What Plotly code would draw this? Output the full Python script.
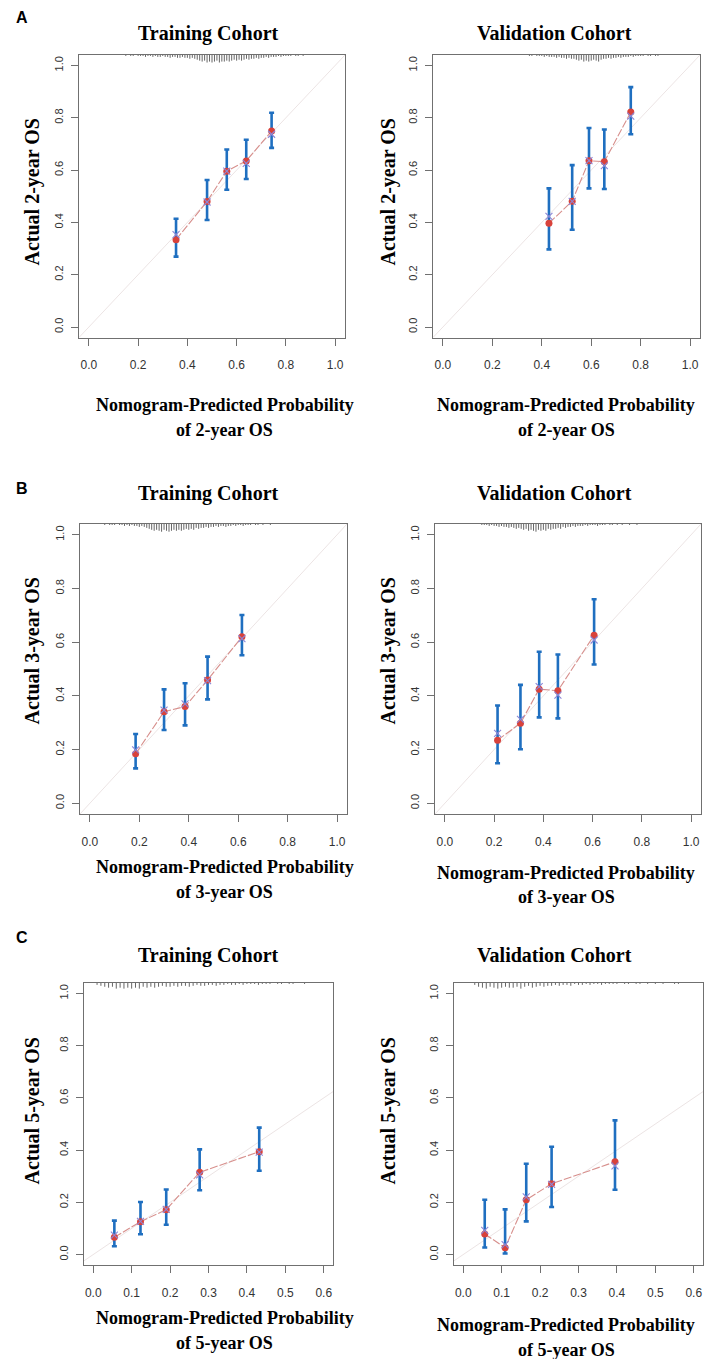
import plotly.graph_objects as go

W, H = 705, 1359

# ---------------- data ----------------
# Panel A: 2-year OS
a_train_pred = [0.354, 0.480, 0.560, 0.639, 0.742]
a_train_obs = [0.334, 0.480, 0.596, 0.635, 0.749]
a_train_lo = [0.269, 0.409, 0.525, 0.566, 0.685]
a_train_hi = [0.414, 0.562, 0.679, 0.716, 0.819]
a_train_bc = [0.353, 0.478, 0.596, 0.626, 0.737]

a_valid_pred = [0.429, 0.523, 0.591, 0.653, 0.760]
a_valid_obs = [0.397, 0.481, 0.636, 0.632, 0.822]
a_valid_lo = [0.297, 0.372, 0.530, 0.528, 0.737]
a_valid_hi = [0.530, 0.619, 0.761, 0.755, 0.917]
a_valid_bc = [0.423, 0.480, 0.636, 0.617, 0.806]

# Panel B: 3-year OS
b_train_pred = [0.185, 0.300, 0.385, 0.476, 0.615]
b_train_obs = [0.184, 0.341, 0.360, 0.459, 0.620]
b_train_lo = [0.130, 0.273, 0.290, 0.387, 0.551]
b_train_hi = [0.258, 0.424, 0.447, 0.546, 0.701]
b_train_bc = [0.199, 0.347, 0.370, 0.457, 0.613]

b_valid_pred = [0.214, 0.307, 0.383, 0.459, 0.606]
b_valid_obs = [0.235, 0.298, 0.425, 0.419, 0.626]
b_valid_lo = [0.149, 0.201, 0.320, 0.316, 0.517]
b_valid_hi = [0.364, 0.441, 0.564, 0.554, 0.760]
b_valid_bc = [0.260, 0.312, 0.434, 0.403, 0.608]

# Panel C: 5-year OS
c_train_pred = [0.055, 0.123, 0.190, 0.277, 0.432]
c_train_obs = [0.066, 0.126, 0.172, 0.315, 0.394]
c_train_lo = [0.032, 0.078, 0.114, 0.246, 0.321]
c_train_hi = [0.130, 0.201, 0.249, 0.403, 0.486]
c_train_bc = [0.074, 0.127, 0.173, 0.305, 0.392]

c_valid_pred = [0.056, 0.109, 0.164, 0.230, 0.395]
c_valid_obs = [0.079, 0.026, 0.210, 0.271, 0.355]
c_valid_lo = [0.027, 0.004, 0.127, 0.182, 0.248]
c_valid_hi = [0.210, 0.173, 0.348, 0.413, 0.514]
c_valid_bc = [0.093, 0.038, 0.221, 0.269, 0.340]

# Rug (distribution of predicted risk) drawn at the top of each box: bin starts and counts (0.01-wide bins)
a_train_rug_start = 0.15
a_train_rug = [1, 0, 1, 1, 0, 1, 1, 1, 2, 1, 1, 2, 1, 2, 2, 1, 2, 2, 3, 2,
               2, 3, 3, 2, 3, 3, 4, 3, 4, 5, 6, 7, 6, 8, 7, 8, 7, 6, 8, 7,
               7, 6, 7, 6, 5, 6, 5, 6, 5, 4, 5, 4, 4, 3, 4, 3, 3, 2, 3, 2,
               2, 2, 1, 2, 1, 1, 1, 1, 0, 1, 1, 0, 1]
a_valid_rug_start = 0.35
a_valid_rug = [1, 1, 0, 1, 1, 1, 2, 1, 2, 2, 2, 3, 2, 3, 3, 4, 3, 4, 4, 5,
               6, 5, 7, 6, 7, 6, 5, 6, 7, 5, 4, 4, 3, 4, 3, 3, 2, 3, 2, 2,
               2, 1, 2, 1, 1, 1, 1, 0, 1, 1, 0, 1, 1]
b_train_rug_start = 0.06
b_train_rug = [1, 0, 1, 1, 1, 0, 1, 1, 2, 1, 2, 1, 2, 2, 3, 2, 3, 4, 5, 6,
               7, 6, 7, 8, 6, 7, 8, 7, 6, 7, 6, 7, 6, 5, 6, 5, 6, 4, 5, 4,
               4, 3, 4, 3, 3, 2, 3, 2, 2, 3, 2, 2, 1, 2, 1, 1, 2, 1, 1, 1,
               0, 1, 1, 0, 1, 0, 0, 1]
b_valid_rug_start = 0.15
b_valid_rug = [1, 1, 1, 2, 1, 2, 2, 3, 2, 3, 3, 4, 3, 4, 5, 4, 5, 6, 5, 7,
               6, 7, 8, 6, 7, 6, 7, 5, 6, 5, 5, 4, 5, 3, 4, 3, 3, 2, 3, 2,
               2, 2, 1, 2, 1, 1, 1, 2, 1, 1, 1, 0, 1, 1, 0, 1, 0, 1, 0, 0,
               1, 0, 0, 1]
c_train_rug_start = 0.01
c_train_rug = [2, 3, 4, 5, 4, 6, 5, 6, 5, 6, 5, 6, 4, 5, 4, 5, 4, 3, 4, 4,
               3, 4, 3, 3, 4, 3, 2, 3, 3, 2, 2, 3, 2, 2, 1, 2, 2, 1, 2, 1,
               1, 1, 2, 1, 1, 1, 0, 1, 1, 0, 1, 1, 0, 0, 1]
c_valid_rug_start = 0.03
c_valid_rug = [2, 4, 5, 6, 4, 5, 6, 5, 4, 5, 5, 4, 6, 4, 3, 5, 4, 3, 4, 3,
               3, 2, 3, 2, 2, 3, 1, 2, 2, 1, 2, 1, 1, 2, 1, 1, 1, 1, 0, 1,
               1, 0, 1, 1, 0, 1, 0, 1, 0, 1, 0, 0, 1, 1]

x_ticks_ab = [0.0, 0.2, 0.4, 0.6, 0.8, 1.0]
x_ticks_c = [0.0, 0.1, 0.2, 0.3, 0.4, 0.5, 0.6]
y_ticks = [0.0, 0.2, 0.4, 0.6, 0.8, 1.0]

panel_letters = ["A", "B", "C"]
col_titles = ["Training Cohort", "Validation Cohort"]
horizons = ["2-year", "3-year", "5-year"]

# ---------------- layout geometry (pixels) ----------------
boxes = {
    (0, 0): (79, 345, 55, 337.5), (0, 1): (433, 700, 55, 337.5),
    (1, 0): (80, 347, 524, 814), (1, 1): (435, 701, 524, 814),
    (2, 0): (84, 333, 983, 1265), (2, 1): (454, 703, 983, 1265),
}
letter_y = [17.5, 488, 937]
title_y = [33, 493, 955]
xt_y = {(0, 0): (405, 430), (0, 1): (405, 430), (1, 0): (867, 892), (1, 1): (873, 897),
        (2, 0): (1318, 1343), (2, 1): (1325, 1350)}
xt_x = [224.5, 566]
yt_x = [31.5, 387.5]
yt_y = [192, 651, 1111]
title_x = [208, 554]

BLUE = "#1f6fc0"
RED = "#d8423b"
XCOL = "#8c86d6"
LINE = "#d78f8c"
DIAG = "#ece4e4"
RUG = "#666666"
AXC = "#707070"
SERIF = "Liberation Serif, Times New Roman, serif"
SANS = "Liberation Sans, Arial, sans-serif"

datasets = {
    (0, 0): (a_train_pred, a_train_obs, a_train_lo, a_train_hi, a_train_bc, a_train_rug_start, a_train_rug),
    (0, 1): (a_valid_pred, a_valid_obs, a_valid_lo, a_valid_hi, a_valid_bc, a_valid_rug_start, a_valid_rug),
    (1, 0): (b_train_pred, b_train_obs, b_train_lo, b_train_hi, b_train_bc, b_train_rug_start, b_train_rug),
    (1, 1): (b_valid_pred, b_valid_obs, b_valid_lo, b_valid_hi, b_valid_bc, b_valid_rug_start, b_valid_rug),
    (2, 0): (c_train_pred, c_train_obs, c_train_lo, c_train_hi, c_train_bc, c_train_rug_start, c_train_rug),
    (2, 1): (c_valid_pred, c_valid_obs, c_valid_lo, c_valid_hi, c_valid_bc, c_valid_rug_start, c_valid_rug),
}

fig = go.Figure()
layout = {}
annotations = []


def px_x(x):
    return x / W


def px_y(y):
    return 1 - y / H


idx = 0
for (r, c), (pred, obs, lo, hi, bc, rstart, rug) in datasets.items():
    idx += 1
    xa = "x" if idx == 1 else f"x{idx}"
    ya = "y" if idx == 1 else f"y{idx}"
    xkey = "xaxis" if idx == 1 else f"xaxis{idx}"
    ykey = "yaxis" if idx == 1 else f"yaxis{idx}"
    x0, x1, y0, y1 = boxes[(r, c)]
    xt = x_ticks_c if r == 2 else x_ticks_ab
    xmax = xt[-1]
    xr = [-0.04 * xmax, xmax * 1.04]
    yr = [-0.04, 1.04]

    # ideal diagonal
    dmax = min(xr[1], yr[1])
    fig.add_trace(go.Scatter(x=[xr[0], dmax], y=[xr[0], dmax], mode="lines",
                             line=dict(color=DIAG, width=1), xaxis=xa, yaxis=ya,
                             showlegend=False, hoverinfo="skip"))
    # rug at top
    rx, ry = [], []
    for i, cnt in enumerate(rug):
        if cnt <= 0:
            continue
        b = rstart + i * 0.01
        rx += [b, b, None]
        ry += [yr[1], yr[1] - cnt * 0.0036, None]
    fig.add_trace(go.Scatter(x=rx, y=ry, mode="lines", line=dict(color=RUG, width=1),
                             xaxis=xa, yaxis=ya, showlegend=False, hoverinfo="skip"))
    # connecting line
    fig.add_trace(go.Scatter(x=pred, y=obs, mode="lines",
                             line=dict(color=LINE, width=1.1, dash="8px,2px"),
                             xaxis=xa, yaxis=ya, showlegend=False))
    # error bars (95% CI)
    fig.add_trace(go.Scatter(
        x=pred, y=obs, mode="markers", marker=dict(size=1, color=BLUE, opacity=0),
        error_y=dict(type="data", symmetric=False,
                     array=[h - o for h, o in zip(hi, obs)],
                     arrayminus=[o - l for o, l in zip(obs, lo)],
                     color=BLUE, thickness=2.6, width=2.5),
        xaxis=xa, yaxis=ya, showlegend=False))
    # observed points
    fig.add_trace(go.Scatter(x=pred, y=obs, mode="markers",
                             marker=dict(size=7, color=RED, line=dict(width=0)),
                             xaxis=xa, yaxis=ya, showlegend=False))
    # bias-corrected estimates
    fig.add_trace(go.Scatter(x=pred, y=bc, mode="markers",
                             marker=dict(size=7, symbol="x-thin-open", color=XCOL,
                                         line=dict(width=1.1, color=XCOL)),
                             xaxis=xa, yaxis=ya, showlegend=False))

    common = dict(showgrid=False, zeroline=False, showline=True, mirror=True,
                  linecolor=AXC, linewidth=1.3, ticks="outside", ticklen=7,
                  tickcolor=AXC, tickwidth=1)
    layout[xkey] = dict(domain=[px_x(x0), px_x(x1)], range=xr, anchor=ya,
                        tickvals=xt, ticktext=[f"{v:.1f}" for v in xt],
                        tickfont=dict(family=SANS, size=12, color="#333"),
                        ticklabelstandoff=9, **common)
    layout[ykey] = dict(domain=[px_y(y1), px_y(y0)], range=yr, anchor=xa,
                        tickvals=y_ticks, ticktext=[f"{v:.1f}" for v in y_ticks],
                        tickangle=-90,
                        tickfont=dict(family=SANS, size=11, color="#333"),
                        ticklabelstandoff=3, **common)

    # titles
    annotations.append(dict(text=f"<b>{col_titles[c]}</b>", x=px_x(title_x[c]), y=px_y(title_y[r]),
                            xref="paper", yref="paper", showarrow=False, xanchor="center",
                            yanchor="middle", font=dict(family=SERIF, size=20, color="black")))
    l1, l2 = xt_y[(r, c)]
    annotations.append(dict(text="<b>Nomogram-Predicted Probability</b>", x=px_x(xt_x[c]), y=px_y(l1),
                            xref="paper", yref="paper", showarrow=False, xanchor="center",
                            yanchor="middle", font=dict(family=SERIF, size=18, color="black")))
    annotations.append(dict(text=f"<b>of {horizons[r]} OS</b>", x=px_x(xt_x[c]), y=px_y(l2),
                            xref="paper", yref="paper", showarrow=False, xanchor="center",
                            yanchor="middle", font=dict(family=SERIF, size=18, color="black")))
    annotations.append(dict(text=f"<b>Actual {horizons[r]} OS</b>", x=px_x(yt_x[c]), y=px_y(yt_y[r]),
                            xref="paper", yref="paper", showarrow=False, xanchor="center",
                            yanchor="middle", textangle=-90,
                            font=dict(family=SERIF, size=20, color="black")))

for r, letter in enumerate(panel_letters):
    annotations.append(dict(text=f"<b>{letter}</b>", x=px_x(21.5), y=px_y(letter_y[r]),
                            xref="paper", yref="paper", showarrow=False, xanchor="center",
                            yanchor="middle", font=dict(family=SANS, size=16, color="black")))

fig.update_layout(width=W, height=H, margin=dict(l=0, r=0, t=0, b=0),
                  paper_bgcolor="white", plot_bgcolor="white",
                  annotations=annotations, **layout)

fig.write_html("out.html", config={"displayModeBar": False},
               post_script="document.body.style.margin='0';document.body.style.overflow='hidden';")
